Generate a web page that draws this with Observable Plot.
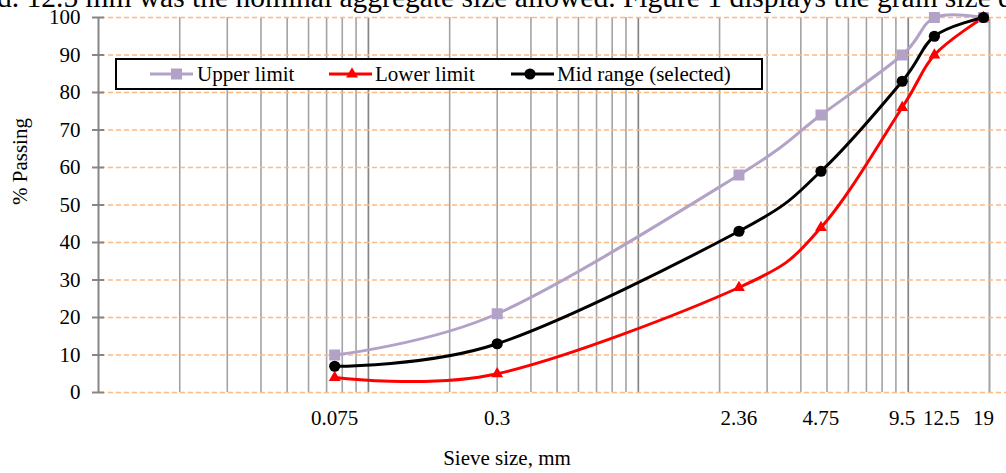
<!DOCTYPE html>
<html>
<head>
<meta charset="utf-8">
<script src="https://cdn.jsdelivr.net/npm/d3@7"></script>
<script src="https://cdn.jsdelivr.net/npm/@observablehq/plot@0.6"></script>
<style>
  html, body { margin: 0; padding: 0; background: #fff; }
  #wrap { position: relative; width: 1006px; height: 473px; overflow: hidden; font-family: "Liberation Serif", "Times New Roman", serif; }
  #wrap > svg { position: absolute; left: 0; top: 0; }
  #wrap svg, #wrap svg text { font-family: "Liberation Serif", "Times New Roman", serif !important; }
  #overlay { pointer-events: none; }
</style>
</head>
<body>
<div id="wrap"></div>
<script>
// Sieve sizes (mm) and gradation limits (% passing)
const sieves = [0.075, 0.3, 2.36, 4.75, 9.5, 12.5, 19];
const sieveLabels = ["0.075", "0.3", "2.36", "4.75", "9.5", "12.5", "19"];
const upperLimit = [10, 21, 58, 74, 90, 100, 100];
const lowerLimit = [4, 5, 28, 44, 76, 90, 100];
const midRange = [7, 13, 43, 59, 83, 95, 100];
const yTicks = [0, 10, 20, 30, 40, 50, 60, 70, 80, 90, 100];

const seriesNames = ["Upper limit", "Lower limit", "Mid range (selected)"];
const seriesColors = ["#b3a2c7", "#ff0000", "#000000"];
const seriesSymbols = ["square", "triangle", "circle"];

// log-decade grid: minor lines at 2..9 of each decade, darker lines at decades
const gridMinor = [-2, -1, 0, 1].flatMap(e => [2, 3, 4, 5, 6, 7, 8, 9].map(k => +(k * 10 ** e).toPrecision(3))).concat([20]);
const gridMajor = [0.1, 1, 10];
const xDomain = [0.01, 20];
const gridEnd = 25; // horizontal dashed lines run past the last sieve

const rows = (values, name) => sieves.map((s, i) => ({size: s, passing: values[i], series: name}));
const data = [
  ...rows(upperLimit, seriesNames[0]),
  ...rows(lowerLimit, seriesNames[1]),
  ...rows(midRange, seriesNames[2])
];
const ticks = sieves.map((s, i) => ({size: s, label: sieveLabels[i]}));

const font = '"Liberation Serif", "Times New Roman", serif';
const fs = 21;

const chart = Plot.plot({
  width: 1006,
  height: 473,
  marginLeft: 98,
  marginRight: 17,
  marginTop: 17,
  marginBottom: 81,
  style: {fontFamily: font, fontSize: "21px", color: "#000", background: "transparent", overflow: "visible"},
  x: {type: "log", domain: xDomain, axis: null},
  y: {domain: [0, 100]},
  color: {domain: seriesNames, range: seriesColors},
  symbol: {domain: seriesNames, range: seriesSymbols},
  marks: [
    Plot.ruleX(gridMinor, {stroke: "#a3a3a3", strokeWidth: 1.6}),
    Plot.ruleX(gridMajor, {stroke: "#858585", strokeWidth: 1.7}),
    Plot.ruleY(yTicks, {x1: xDomain[0], x2: gridEnd, stroke: "#f9bb86", strokeWidth: 1.6, strokeDasharray: "5,3", dx: 2}),
    Plot.ruleX([xDomain[0]], {stroke: "#868686", strokeWidth: 2}),
    Plot.axisY({ticks: yTicks, tickSize: 12, dx: 6, tickPadding: 12, stroke: "#868686", strokeWidth: 2, label: null, fontSize: fs, fontFamily: font}),
    // sieve labels under the frame; 12.5 is nudged right to clear 9.5
    Plot.text(ticks.filter(d => d.label !== "12.5"), {x: "size", text: "label", frameAnchor: "bottom", dy: 32, fontSize: fs, fontFamily: font}),
    Plot.text(ticks.filter(d => d.label === "12.5"), {x: "size", text: "label", frameAnchor: "bottom", dy: 32, dx: 7, fontSize: fs, fontFamily: font}),
    Plot.text(["% Passing"], {frameAnchor: "left", dx: -78, rotate: -90, fontSize: fs, fontFamily: font}),
    Plot.text(["Sieve size, mm"], {frameAnchor: "bottom", dx: -37, dy: 72, fontSize: fs, fontFamily: font}),
    Plot.line(data, {x: "size", y: "passing", z: "series", stroke: "series", strokeWidth: 3, curve: "cardinal", tension: 0}),
    Plot.dot(data.filter(d => d.series === seriesNames[0]), {x: "size", y: "passing", symbol: "series", fill: "series", r: 6.2}),
    Plot.dot(data.filter(d => d.series === seriesNames[1]), {x: "size", y: "passing", symbol: "series", fill: "series", r: 4.4}),
    Plot.dot(data.filter(d => d.series === seriesNames[2]), {x: "size", y: "passing", symbol: "series", fill: "series", r: 5.6})
  ]
});

const wrap = document.getElementById("wrap");
wrap.appendChild(chart);

// overlay: running text line at the top and the boxed legend
const svg = d3.select(wrap).append("svg")
  .attr("id", "overlay")
  .attr("width", 1006).attr("height", 473)
  .style("font-family", font);

svg.append("text")
  .attr("x", -3).attr("y", 7)
  .attr("font-size", 29.5)
  .text("d. 12.5 mm was the nominal aggregate size allowed. Figure 1 displays the grain size d");

const legend = svg.append("g");
legend.append("rect")
  .attr("x", 116).attr("y", 59).attr("width", 646).attr("height", 30)
  .attr("fill", "#fff").attr("stroke", "#000").attr("stroke-width", 2);

const items = [
  {x0: 150, x1: 193, mx: 176.5, tx: 197, size: Math.PI * 6.2 * 6.2},
  {x0: 329, x1: 372, mx: 352, tx: 375, size: Math.PI * 4.4 * 4.4},
  {x0: 511, x1: 554, mx: 530, tx: 557, size: Math.PI * 5.6 * 5.6}
];
const symbolTypes = {square: d3.symbolSquare, triangle: d3.symbolTriangle, circle: d3.symbolCircle};
items.forEach((it, i) => {
  const g = legend.append("g");
  g.append("line")
    .attr("x1", it.x0).attr("x2", it.x1).attr("y1", 74).attr("y2", 74)
    .attr("stroke", seriesColors[i]).attr("stroke-width", 3);
  g.append("path")
    .attr("transform", `translate(${it.mx},74)`)
    .attr("d", d3.symbol(symbolTypes[seriesSymbols[i]], it.size)())
    .attr("fill", seriesColors[i]);
  g.append("text")
    .attr("x", it.tx).attr("y", 81)
    .attr("font-size", fs)
    .text(seriesNames[i]);
});
</script>
</body>
</html>
